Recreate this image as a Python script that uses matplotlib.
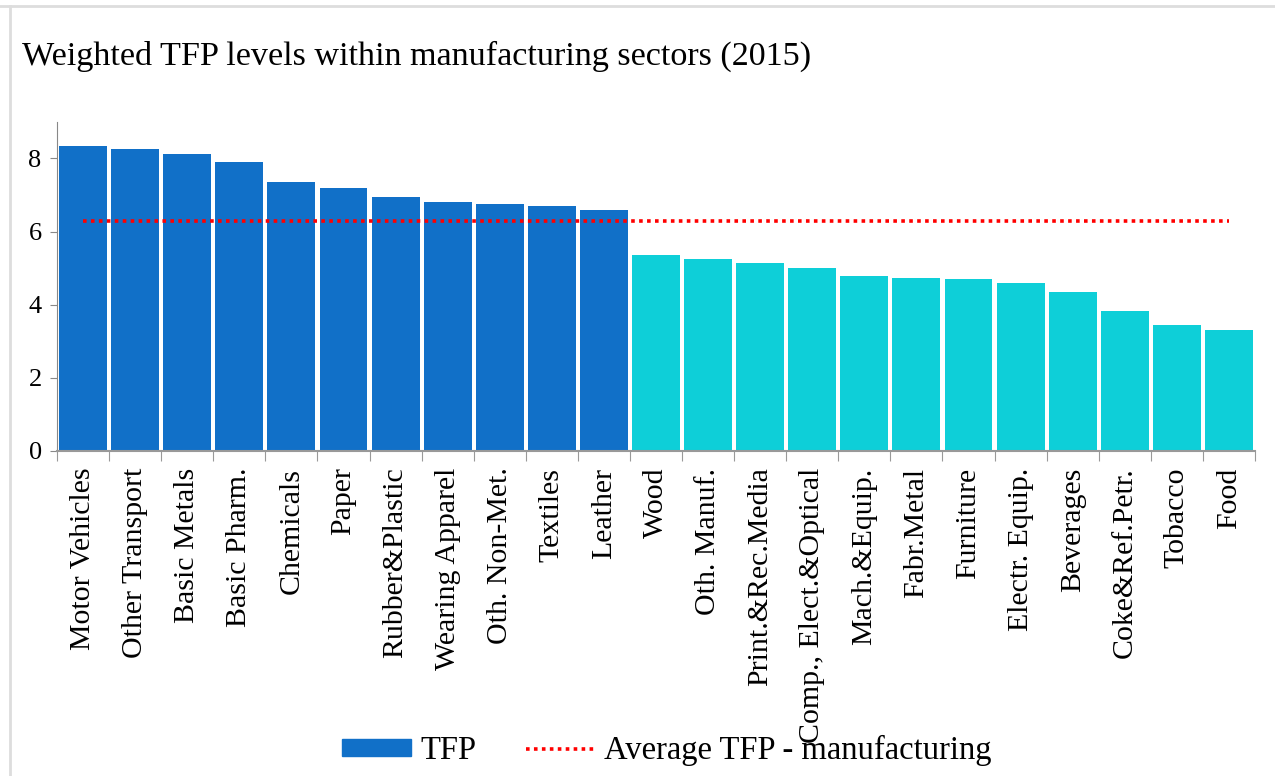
import matplotlib.pyplot as plt
from matplotlib.lines import Line2D
from matplotlib.patches import Patch

# sectors sorted by TFP level
sectors = ["Motor Vehicles", "Other Transport", "Basic Metals", "Basic Pharm.", "Chemicals",
           "Paper", "Rubber&Plastic", "Wearing Apparel", "Oth. Non-Met.", "Textiles", "Leather",
           "Wood", "Oth. Manuf.", "Print.&Rec.Media", "Comp., Elect.&Optical", "Mach.&Equip.",
           "Fabr.Metal", "Furniture", "Electr. Equip.", "Beverages", "Coke&Ref.Petr.",
           "Tobacco", "Food"]
tfp = [8.33, 8.25, 8.11, 7.89, 7.36, 7.19, 6.94, 6.80, 6.75, 6.69, 6.58,
       5.36, 5.25, 5.14, 5.00, 4.78, 4.73, 4.70, 4.59, 4.34, 3.83, 3.44, 3.31]
avg_tfp = 6.29
n_high = 11  # sectors above the average

plt.rcParams['font.family'] = ['Liberation Serif', 'DejaVu Serif']

fig = plt.figure(figsize=(12.75, 7.76), dpi=100)
ax = fig.add_axes([0.0447, 0.419, 0.9396, 0.424])

colors = ["#1170c8" if i < n_high else "#0ecfd8" for i in range(len(tfp))]
x = list(range(len(tfp)))
ax.bar(x, tfp, width=0.92, color=colors)
ax.plot(x, [avg_tfp] * len(x), color="#ff0000", linestyle=(0, (1, 1.2)), linewidth=2.6)

ax.set_xlim(-0.5, len(tfp) - 0.5)
ax.set_ylim(0, 9)
ax.set_yticks([0, 2, 4, 6, 8])
ax.tick_params(axis="y", labelsize=19, length=5, color="#888888", pad=6)

ax.set_xticks([i - 0.5 for i in range(len(tfp) + 1)])
ax.set_xticklabels([])
ax.tick_params(axis="x", which="major", length=7, color="#999999")
ax.set_xticks(x, minor=True)
ax.set_xticklabels(sectors, minor=True, rotation=90, fontsize=21.5, va="top")
ax.tick_params(axis="x", which="minor", length=0, pad=12)

for s in ["top", "right"]:
    ax.spines[s].set_visible(False)
ax.spines["left"].set_color("#888888")
ax.spines["bottom"].set_color("#999999")
ax.spines["bottom"].set_linewidth(1.5)

fig.text(0.017, 0.928, "Weighted TFP levels within manufacturing sectors (2015)",
         fontsize=24.6, va="center", ha="left")

handles = [Patch(color="#1170c8", label="TFP"),
           Line2D([], [], color="#ff0000", linestyle=(0, (1, 1.2)), linewidth=2.6,
                  label="Average TFP - manufacturing")]
fig.legend(handles=handles, loc="center", bbox_to_anchor=(0.523, 0.033), ncol=2,
           frameon=False, fontsize=23.5, handlelength=2.1, handleheight=0.45,
           columnspacing=1.5, handletextpad=0.3)

# light frame lines of the original slide
fig.add_artist(Line2D([0, 1], [0.992, 0.992], color="#dddddd", linewidth=2, transform=fig.transFigure))
fig.add_artist(Line2D([0.008, 0.008], [0, 0.992], color="#dddddd", linewidth=2, transform=fig.transFigure))

fig.savefig("out.png", dpi=100)
